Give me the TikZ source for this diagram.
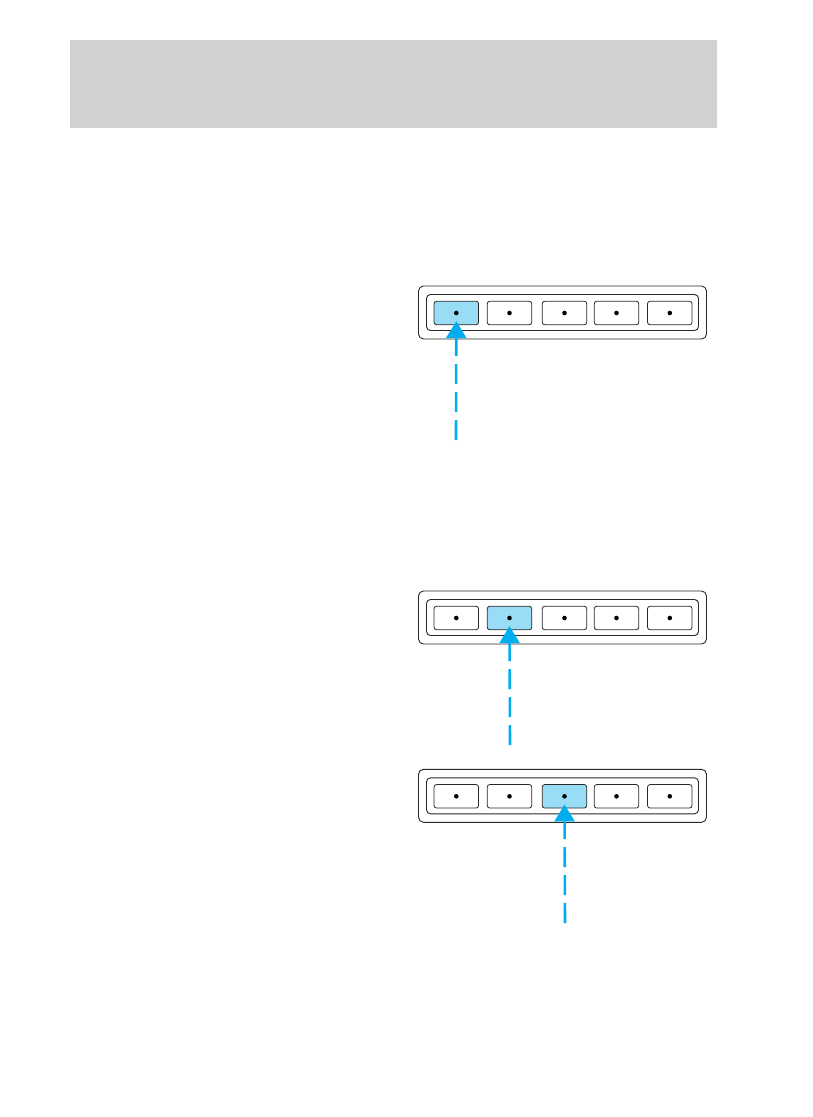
\documentclass[tikz,border=0pt]{standalone}
\usetikzlibrary{arrows.meta}
\definecolor{hdrgray}{RGB}{209,209,209}
\definecolor{btnblue}{RGB}{152,220,245}
\definecolor{arrblue}{RGB}{0,174,239}
\definecolor{frame}{RGB}{40,40,40}
\tikzset{
  outerbox/.style={draw=frame,line width=0.9pt,rounded corners=5pt,minimum width=288pt,minimum height=53pt,inner sep=0pt},
  innerbox/.style={draw=frame,line width=0.9pt,rounded corners=4pt,minimum width=272pt,minimum height=36pt,inner sep=0pt},
  keybtn/.style={draw=frame,line width=0.8pt,rounded corners=2.5pt,minimum width=44.5pt,minimum height=23.5pt,inner sep=0pt},
  keyon/.style={keybtn,fill=btnblue},
  pointer/.style={draw=arrblue,line width=2.6pt,dash pattern=on 20pt off 8pt,-{Triangle[width=20pt,length=17pt,fill=arrblue]}}
}
\begin{document}
\begin{tikzpicture}[x=1pt,y=-1pt]
\useasboundingbox (0,0) rectangle (813,1117);
\fill[hdrgray] (70,40) rectangle (717,128);
\foreach \k/\ty/\hl in {a/286/1,b/591/2,c/769.3/3}{
  \node[outerbox] (\k out) at (562.5,\ty+26.5) {};
  \node[innerbox] (\k in) at (562.5,\ty+26.5) {};
  \foreach \i/\cx in {1/456.3,2/509.5,3/564.5,4/616.5,5/669.8}{
    \ifnum\i=\hl
      \node[keyon] (\k b\i) at (\cx,\ty+27) {};
    \else
      \node[keybtn] (\k b\i) at (\cx,\ty+27) {};
    \fi
    \fill (\k b\i.center) circle (2.3pt);
  }
}
\coordinate (pa) at (456,440);
\coordinate (pb) at (510,745);
\coordinate (pc) at (565,923);
\draw[pointer] (pa) -- ([yshift=4pt]ab1.south);
\draw[pointer] (pb) -- ([yshift=4pt]bb2.south);
\draw[pointer] (pc) -- ([yshift=4pt]cb3.south);
\end{tikzpicture}
\end{document}
